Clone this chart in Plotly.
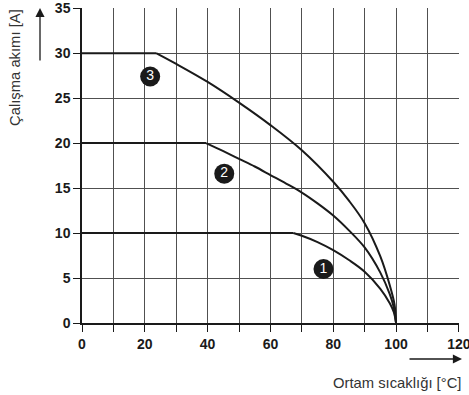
import plotly.graph_objects as go

# Data
curve1_x = [0, 67.3, 70, 75, 80, 85, 90, 95, 98, 99.3, 100]
curve1_y = [10, 10, 9.7, 9.0, 8.1, 7.0, 5.7, 3.8, 2.2, 1.2, 0]

curve2_x = [0, 39.5, 45, 50, 55, 60, 65, 70, 75, 80, 85, 90, 95, 98, 99.3, 100]
curve2_y = [20, 20, 19.1, 18.25, 17.4, 16.45, 15.5, 14.5, 13.3, 11.95, 10.3, 8.4, 5.6, 3.2, 1.7, 0]

curve3_x = [0, 23.6, 30, 40, 50, 60, 70, 80, 85, 90, 95, 98, 99.5, 100]
curve3_y = [30, 30, 28.8, 26.8, 24.5, 22.0, 19.2, 15.7, 13.6, 11.1, 7.4, 4.2, 2.1, 0]

label_x = [76.9, 45.3, 21.7]
label_y = [6.0, 16.6, 27.4]
label_text = ["1", "2", "3"]

x_ticks = [0, 20, 40, 60, 80, 100, 120]
y_ticks = [0, 5, 10, 15, 20, 25, 30, 35]

x_title = "Ortam sıcaklığı [°C]"
y_title = "Çalışma akımı [A]"

fig = go.Figure()
for cx, cy in [(curve1_x, curve1_y), (curve2_x, curve2_y), (curve3_x, curve3_y)]:
    # flat part (straight) up to the knee, then the smooth derating curve
    fig.add_trace(go.Scatter(x=cx[:2], y=cy[:2], mode="lines",
                             line=dict(color="#1a1a1a", width=2),
                             hoverinfo="skip", showlegend=False))
    fig.add_trace(go.Scatter(x=cx[1:], y=cy[1:], mode="lines",
                             line=dict(color="#1a1a1a", width=2, shape="spline", smoothing=1.0),
                             hoverinfo="skip", showlegend=False))

fig.add_trace(go.Scatter(x=label_x, y=label_y, mode="markers+text",
                         text=label_text, textposition="middle center",
                         marker=dict(size=20, color="#1a1a1a"),
                         textfont=dict(color="white", size=14, family="Liberation Sans"),
                         showlegend=False, hoverinfo="skip", cliponaxis=False))

L, R, T, B = 82, 10, 8, 72
W, H = 469, 395
pw = W - L - R
ph = H - T - B

def px(xp):
    return (xp - L) / pw

def py(yp):
    return (H - B - yp) / ph

tickfont = dict(family="Liberation Sans", size=14, color="#1a1a1a", weight="bold")
fig.update_xaxes(range=[0, 120.05], tickmode="array", tickvals=x_ticks,
                 showgrid=True, gridcolor="#505050", gridwidth=1,
                 minor=dict(dtick=10, tick0=0, showgrid=True, gridcolor="#505050", gridwidth=1,
                            ticks="outside", ticklen=7, tickcolor="#1a1a1a"),
                 showline=True, linecolor="#1a1a1a", linewidth=1.5,
                 ticks="outside", ticklen=7, tickcolor="#1a1a1a", zeroline=False,
                 ticklabeloverflow="allow", automargin=False,
                 tickfont=tickfont, fixedrange=True)
fig.update_yaxes(range=[0, 35.02], tickmode="array", tickvals=y_ticks,
                 showgrid=True, gridcolor="#505050", gridwidth=1,
                 showline=True, linecolor="#1a1a1a", linewidth=1.5,
                 ticks="outside", ticklen=7, tickcolor="#1a1a1a", zeroline=False,
                 ticklabeloverflow="allow", automargin=False,
                 tickfont=tickfont, fixedrange=True)

fig.update_layout(width=W, height=H, margin=dict(l=L, r=R, t=T, b=B, autoexpand=False),
                  paper_bgcolor="white", plot_bgcolor="white",
                  font=dict(family="Liberation Sans", size=13, color="#333333"))

# x title and arrow
fig.add_annotation(xref="paper", yref="paper", x=px(463), y=py(383), text=x_title,
                   showarrow=False, xanchor="right", yanchor="middle",
                   font=dict(size=14.8, color="#333333"))
fig.add_annotation(xref="paper", yref="paper", x=px(462), y=py(359), ax=-54, ay=0,
                   text="", showarrow=True, arrowhead=2, arrowsize=1.4, arrowwidth=1.3,
                   arrowcolor="#1a1a1a")
# y title and arrow
fig.add_annotation(xref="paper", yref="paper", x=px(15), y=py(68), text=y_title,
                   textangle=-90, showarrow=False, xanchor="center", yanchor="middle",
                   font=dict(size=14.8, color="#333333"))
fig.add_annotation(xref="paper", yref="paper", x=px(40), y=py(8), ax=0, ay=54,
                   text="", showarrow=True, arrowhead=2, arrowsize=1.4, arrowwidth=1.3,
                   arrowcolor="#1a1a1a")

fig.write_html("out.html", config={"displayModeBar": False},
               post_script="document.body.style.margin='0';document.body.style.padding='0';")
